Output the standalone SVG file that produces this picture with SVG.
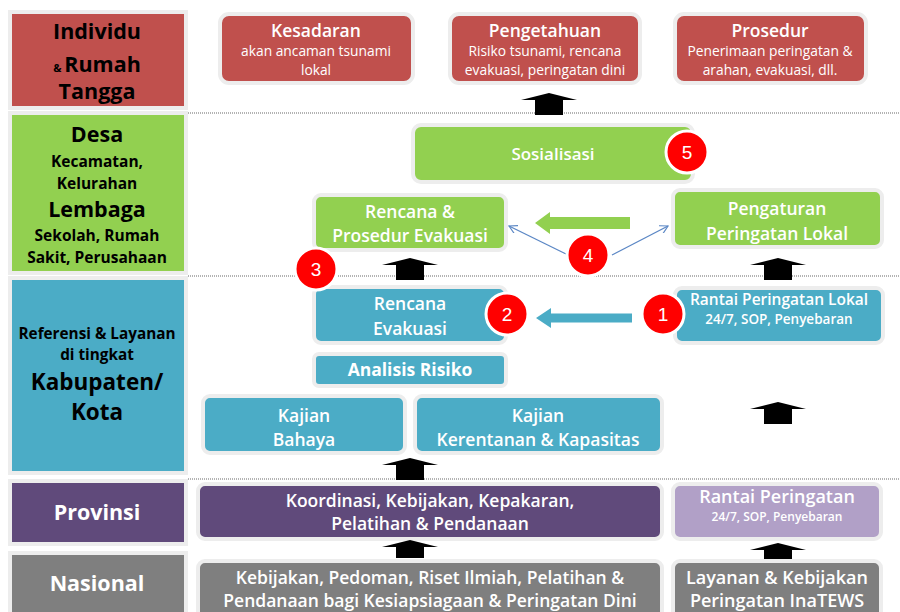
<svg xmlns="http://www.w3.org/2000/svg" width="900" height="612" viewBox="0 0 900 612">
<defs>
<style>
.t{font-family:"Open Sans",Lato,"Liberation Sans",sans-serif;text-anchor:middle}
.lbl{fill:#000;font-weight:bold}
.w{fill:#fff}
.s{font-weight:600}
.node{stroke:#ededed;stroke-width:4}
.red{fill:#C0504D}.grn{fill:#92D050}.blu{fill:#4BACC6}.pur{fill:#604A7B}.lpur{fill:#B1A0C7}.gry{fill:#7F7F7F}
.dot{stroke:#9a9a9a;stroke-width:1.6;stroke-dasharray:1 1;fill:none}
.badge{fill:#FF0000;stroke:#fff;stroke-width:3}
.bt{font-family:"Liberation Sans",Arial,sans-serif;font-size:19px;fill:#fff;text-anchor:middle}
.thin{stroke:#5B87C5;stroke-width:1.3;fill:none}
</style>
<path id="up" d="M0,0 L28,7 L14,7 L14,22 L-14,22 L-14,7 L-28,7 Z" fill="#000"/>
<marker id="oa" viewBox="0 0 10 10" refX="9" refY="5" markerWidth="9" markerHeight="9" orient="auto" markerUnits="userSpaceOnUse">
<path d="M0,0 L9,5 L0,10" fill="none" stroke="#5B87C5" stroke-width="1.3"/>
</marker>
</defs>
<rect width="900" height="612" fill="#fff"/>

<!-- dotted level separators -->
<g id="separators">
<line class="dot" x1="188" y1="113" x2="900" y2="113"/>
<line class="dot" x1="188" y1="276" x2="900" y2="276"/>
<line class="dot" x1="188" y1="479" x2="900" y2="479"/>
</g>

<!-- left level labels -->
<g id="lvl-individu">
<rect x="10" y="12" width="176" height="96" class="red node" stroke-width="3"/>
<text class="t lbl" x="97" y="39" font-size="21.5">Individu</text>
<text class="t lbl" x="97" y="72" font-size="21.5"><tspan font-size="11">&amp; </tspan>Rumah</text>
<text class="t lbl" x="97" y="99" font-size="21.5">Tangga</text>
</g>
<g id="lvl-desa">
<rect x="10" y="113" width="176" height="160" class="grn node" stroke-width="3"/>
<text class="t lbl" x="97" y="142" font-size="21.5">Desa</text>
<text class="t lbl" x="97" y="167" font-size="15.5">Kecamatan,</text>
<text class="t lbl" x="97" y="189" font-size="15.5">Kelurahan</text>
<text class="t lbl" x="97" y="217" font-size="21.5">Lembaga</text>
<text class="t lbl" x="97" y="241" font-size="15.5">Sekolah, Rumah</text>
<text class="t lbl" x="97" y="263" font-size="15.5">Sakit, Perusahaan</text>
</g>
<g id="lvl-kabupaten">
<rect x="10" y="278" width="176" height="195" class="blu node" stroke-width="3"/>
<text class="t lbl" x="97" y="339" font-size="15.3">Referensi &amp; Layanan</text>
<text class="t lbl" x="97" y="360" font-size="15.3">di tingkat</text>
<text class="t lbl" x="97" y="390" font-size="22.5">Kabupaten/</text>
<text class="t lbl" x="97" y="420" font-size="22.5">Kota</text>
</g>
<g id="lvl-provinsi">
<rect x="10" y="481" width="176" height="63" class="pur node" stroke-width="3"/>
<text class="t w" x="97" y="520" font-size="21.5" font-weight="bold">Provinsi</text>
</g>
<g id="lvl-nasional">
<rect x="10" y="553" width="176" height="64" class="gry node" stroke-width="3"/>
<text class="t w" x="97" y="591" font-size="21.5" font-weight="bold">Nasional</text>
</g>

<!-- Individu nodes -->
<g id="kesadaran">
<rect x="220" y="14" width="193" height="69" rx="9" class="red node"/>
<text class="t w s" x="316" y="37" font-size="17.5">Kesadaran</text>
<text class="t w" x="316" y="56" font-size="13.8">akan ancaman tsunami</text>
<text class="t w" x="316" y="75" font-size="13.8">lokal</text>
</g>
<g id="pengetahuan">
<rect x="450" y="14" width="190" height="69" rx="9" class="red node"/>
<text class="t w s" x="545" y="37" font-size="17.5">Pengetahuan</text>
<text class="t w" x="545" y="56" font-size="13.8">Risiko tsunami, rencana</text>
<text class="t w" x="545" y="75" font-size="13.8">evakuasi, peringatan dini</text>
</g>
<g id="prosedur">
<rect x="675" y="14" width="191" height="69" rx="9" class="red node"/>
<text class="t w s" x="770" y="37" font-size="17.5">Prosedur</text>
<text class="t w" x="770" y="56" font-size="13.8">Penerimaan peringatan &amp;</text>
<text class="t w" x="770" y="75" font-size="13.8">arahan, evakuasi, dll.</text>
</g>

<!-- Desa nodes -->
<g id="sosialisasi">
<rect x="413" y="125" width="280" height="57" rx="8" class="grn node"/>
<text class="t w s" x="553" y="160" font-size="17">Sosialisasi</text>
</g>
<g id="rencana-prosedur">
<rect x="314" y="195" width="192" height="55" rx="7" class="grn node"/>
<text class="t w s" x="410" y="218" font-size="17.5">Rencana &amp;</text>
<text class="t w s" x="410" y="242" font-size="17.5">Prosedur Evakuasi</text>
</g>
<g id="pengaturan">
<rect x="673" y="190" width="209" height="57" rx="7" class="grn node"/>
<text class="t w s" x="777" y="215" font-size="17.5">Pengaturan</text>
<text class="t w s" x="777" y="240" font-size="17.5">Peringatan Lokal</text>
</g>

<!-- Kabupaten nodes -->
<g id="rencana-evakuasi">
<rect x="314" y="287" width="192" height="56" rx="7" class="blu node"/>
<text class="t w s" x="410" y="310" font-size="17.5">Rencana</text>
<text class="t w s" x="410" y="335" font-size="17.5">Evakuasi</text>
</g>
<g id="rantai-lokal">
<rect x="675" y="288" width="208" height="55" rx="7" class="blu node"/>
<text class="t w s" x="779" y="305" font-size="15.5">Rantai Peringatan Lokal</text>
<text class="t w s" x="779" y="324" font-size="13.5">24/7, SOP, Penyebaran</text>
</g>
<g id="analisis-risiko">
<rect x="314" y="354" width="192" height="32" rx="5" class="blu node"/>
<text class="t w" x="410" y="376" font-size="17.5" font-weight="bold">Analisis Risiko</text>
</g>
<g id="kajian-bahaya">
<rect x="203" y="396" width="202" height="57" rx="7" class="blu node"/>
<text class="t w s" x="304" y="422" font-size="17.5">Kajian</text>
<text class="t w s" x="304" y="446" font-size="17.5">Bahaya</text>
</g>
<g id="kajian-kerentanan">
<rect x="415" y="396" width="247" height="57" rx="7" class="blu node"/>
<text class="t w s" x="538" y="422" font-size="17.5">Kajian</text>
<text class="t w s" x="538" y="446" font-size="17.5">Kerentanan &amp; Kapasitas</text>
</g>

<!-- Provinsi nodes -->
<g id="koordinasi">
<rect x="198" y="484" width="464" height="55" rx="7" class="pur node"/>
<text class="t w s" x="430" y="507" font-size="17.5">Koordinasi, Kebijakan, Kepakaran,</text>
<text class="t w s" x="430" y="530" font-size="17.5">Pelatihan &amp; Pendanaan</text>
</g>
<g id="rantai-peringatan">
<rect x="673" y="484" width="208" height="55" rx="7" class="lpur node"/>
<text class="t w s" x="777" y="503" font-size="18">Rantai Peringatan</text>
<text class="t w s" x="777" y="521" font-size="12">24/7, SOP, Penyebaran</text>
</g>

<!-- Nasional nodes -->
<g id="kebijakan-nasional">
<rect x="198" y="561" width="464" height="60" rx="7" class="gry node"/>
<text class="t w s" x="430" y="584" font-size="17.5">Kebijakan, Pedoman, Riset Ilmiah, Pelatihan &amp;</text>
<text class="t w s" x="430" y="607" font-size="17.5">Pendanaan bagi Kesiapsiagaan &amp; Peringatan Dini</text>
</g>
<g id="layanan-inatews">
<rect x="673" y="561" width="208" height="60" rx="7" class="gry node"/>
<text class="t w s" x="777" y="584" font-size="18">Layanan &amp; Kebijakan</text>
<text class="t w s" x="777" y="607" font-size="18">Peringatan InaTEWS</text>
</g>

<!-- connectors -->
<g id="connectors">
<use href="#up" x="549" y="93"/>
<use href="#up" x="410" y="258"/>
<use href="#up" x="778" y="258"/>
<use href="#up" x="778" y="402"/>
<use href="#up" x="410" y="458"/>
<path d="M410,540 L438,547 L424,547 L424,558 L396,558 L396,547 L382,547 Z" fill="#000"/>
<path d="M778,543 L806,550 L792,550 L792,559 L764,559 L764,550 L750,550 Z" fill="#000"/>
<path d="M535,223 L550,212 L550,217 L630,217 L630,229 L550,229 L550,234 Z" fill="#92D050"/>
<path d="M536,318 L551,308 L551,313.5 L632,313.5 L632,322.5 L551,322.5 L551,328 Z" fill="#4BACC6"/>
<line class="thin" x1="566" y1="254" x2="509" y2="226" marker-end="url(#oa)"/>
<line class="thin" x1="612" y1="255" x2="668" y2="226" marker-end="url(#oa)"/>
</g>

<!-- numbered badges -->
<g id="badges">
<g id="badge-1"><circle class="badge" cx="663" cy="314" r="21"/><text class="bt" x="663" y="321">1</text></g>
<g id="badge-2"><circle class="badge" cx="507" cy="314" r="21"/><text class="bt" x="507" y="321">2</text></g>
<g id="badge-3"><circle class="badge" cx="316" cy="269" r="21"/><text class="bt" x="316" y="276">3</text></g>
<g id="badge-4"><circle class="badge" cx="588" cy="255" r="21"/><text class="bt" x="588" y="262">4</text></g>
<g id="badge-5"><circle class="badge" cx="687" cy="152" r="21"/><text class="bt" x="687" y="159">5</text></g>
</g>
</svg>
